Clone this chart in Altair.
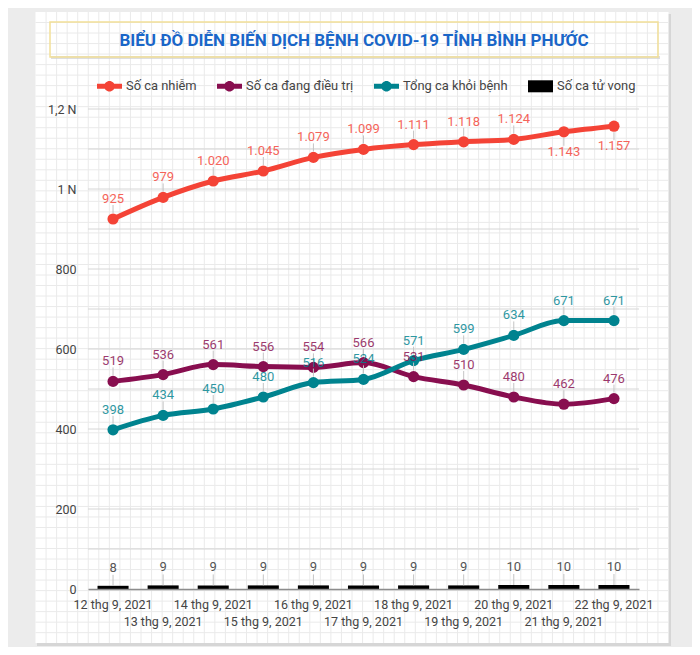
import altair as alt
import pandas as pd

# ---------------- data ----------------
dates = [
    "12 thg 9, 2021", "13 thg 9, 2021", "14 thg 9, 2021", "15 thg 9, 2021",
    "16 thg 9, 2021", "17 thg 9, 2021", "18 thg 9, 2021", "19 thg 9, 2021",
    "20 thg 9, 2021", "21 thg 9, 2021", "22 thg 9, 2021",
]
so_ca_nhiem = [925, 979, 1020, 1045, 1079, 1099, 1111, 1118, 1124, 1143, 1157]
dang_dieu_tri = [519, 536, 561, 556, 554, 566, 531, 510, 480, 462, 476]
khoi_benh = [398, 434, 450, 480, 516, 524, 571, 599, 634, 671, 671]
tu_vong = [8, 9, 9, 9, 9, 9, 9, 9, 10, 10, 10]

series_names = ["Số ca nhiễm", "Số ca đang điều trị", "Tổng ca khỏi bệnh", "Số ca tử vong"]
series_colors = ["#f44336", "#880e4f", "#00838f", "#000000"]
y_tick_values = [0, 200, 400, 600, 800, 1000, 1200]
grid_values = [100, 200, 300, 400, 500, 600, 700, 800, 900, 1000, 1100, 1200]
title_text = "BIỂU ĐỒ DIỄN BIẾN DỊCH BỆNH COVID-19 TỈNH BÌNH PHƯỚC"

# labels drawn under their point instead of above
labels_below = [("Số ca nhiễm", "21 thg 9, 2021"), ("Số ca nhiễm", "22 thg 9, 2021")]

rows = []
for name, vals in zip(series_names, [so_ca_nhiem, dang_dieu_tri, khoi_benh, tu_vong]):
    for d, v in zip(dates, vals):
        rows.append({"date": d, "series": name, "value": v})
df = pd.DataFrame(rows)

DEATHS = series_names[3]
below_expr = " || ".join(
    f"(datum.series === '{s}' && datum.date === '{d}')" for s, d in labels_below
)

# ---------------- encodings ----------------
x_enc = alt.X(
    "date:O",
    sort=dates,
    scale=alt.Scale(type="band", domain=dates, paddingInner=0, paddingOuter=0),
    axis=alt.Axis(
        title=None, labelAngle=0, ticks=False, tickSize=0, grid=False,
        labelExpr="parseInt(datum.value) % 2 == 0 ? datum.value : ['', datum.value]",
        labelLineHeight=17, labelPadding=9, labelOverlap=False,
        labelColor="#444444", labelFontSize=12.5, labelFont="Roboto",
        domainColor="#8c8c8c", domainWidth=1.5, zindex=1,
    ),
)
y_enc = alt.Y(
    "value:Q",
    scale=alt.Scale(domain=[0, 1200], nice=False, zero=True),
    axis=alt.Axis(
        title=None, values=y_tick_values, grid=False, domain=False, ticks=False,
        tickSize=0, labelPadding=12, labelColor="#444444", labelFontSize=12.5,
        labelFont="Roboto", zindex=1,
        labelExpr="datum.value >= 1000 ? format(datum.value / 1000, '.1~f') + ' N' : format(datum.value, 'd')",
    ),
)

LINEDOT = "M-1,-0.2H1V0.2H-1Z M0.42,0A0.42,0.42,0,1,1,-0.42,0A0.42,0.42,0,1,1,0.42,0Z"
RECT = "M-1,-0.48H1V0.48H-1Z"
legend = alt.Legend(
    title=None, orient="none", legendX=9, legendY=-35.5, direction="horizontal",
    symbolSize=625, labelFontSize=12.9, labelColor="#444444", labelFont="Roboto",
    columnPadding=20, labelOffset=4, padding=0, symbolStrokeWidth=0, symbolOpacity=1,
)
stroke_enc = alt.Stroke("series:N", scale=alt.Scale(domain=series_names, range=series_colors), legend=None)
fill_enc = alt.Fill("series:N", scale=alt.Scale(domain=series_names, range=series_colors), legend=None)

base = alt.Chart(df)
lines_data = base.transform_filter(f"datum.series !== '{DEATHS}'")
deaths_data = base.transform_filter(f"datum.series === '{DEATHS}'")
one = alt.Data(values=[{}])

# ---------------- decoration ----------------
card_shadow = alt.Chart(one).mark_rect(fill="#d6d6d6").encode(
    x=alt.value(-51), x2=alt.value(583), y=alt.value(-95), y2=alt.value(537))
card = alt.Chart(one).mark_rect(fill="#ffffff").encode(
    x=alt.value(-52.5), x2=alt.value(580.5), y=alt.value(-97), y2=alt.value(534))
grid_v = alt.Chart(alt.sequence(1, 60, as_="k")).transform_calculate(
    px="-52.5 + datum.k * 10.55"
).mark_rule(color="#eaeaea", strokeWidth=1).encode(
    x=alt.X("px:Q", scale=None, axis=None), y=alt.value(-97), y2=alt.value(534))
grid_h = alt.Chart(alt.sequence(1, 60, as_="k")).transform_calculate(
    py="-97 + datum.k * 10.52"
).mark_rule(color="#eaeaea", strokeWidth=1).encode(
    y=alt.Y("py:Q", scale=None, axis=None), x=alt.value(-52.5), x2=alt.value(580.5))
box_shadow = alt.Chart(one).mark_rect(fill="#d0d0d0", opacity=0.7).encode(
    x=alt.value(-37), x2=alt.value(572), y=alt.value(-53), y2=alt.value(-50))
title_box = alt.Chart(one).mark_rect(
    filled=False, stroke="#f2df98", strokeWidth=1.5
).encode(x=alt.value(-38), x2=alt.value(570), y=alt.value(-87), y2=alt.value(-52))

# ---------------- data layers ----------------
gridlines = alt.Chart(pd.DataFrame({"value": grid_values})).mark_rule(
    color="#d6d6d6", strokeWidth=1
).encode(y=y_enc)

bars = deaths_data.mark_bar(width=alt.RelativeBandSize(0.62)).encode(
    x=x_enc, y=y_enc, fill=fill_enc)
lines = lines_data.mark_line(strokeWidth=5, interpolate="monotone").encode(
    x=x_enc, y=y_enc, stroke=stroke_enc)
points = lines_data.mark_point(filled=True, size=125, opacity=1, strokeWidth=0).encode(
    x=x_enc, y=y_enc, fill=fill_enc)

# legend-only layer (no rows drawn)
legend_layer = base.transform_filter("false").mark_point(
    filled=True, size=625, opacity=1, strokeWidth=0
).encode(
    x=x_enc, y=y_enc,
    color=alt.Color("series:N", scale=alt.Scale(domain=series_names, range=series_colors), legend=legend),
    shape=alt.Shape("series:N", scale=alt.Scale(
        domain=series_names, range=[LINEDOT, LINEDOT, LINEDOT, RECT]), legend=legend),
)

above = lines_data.transform_filter(f"!({below_expr})")
below = lines_data.transform_filter(below_expr)

lead_above = above.mark_rule(color="#c4c4c4", strokeWidth=1, yOffset=-14, y2Offset=-6).encode(
    x=x_enc, y=y_enc, y2="value:Q")
lead_below = below.mark_rule(color="#c4c4c4", strokeWidth=1, yOffset=6, y2Offset=14).encode(
    x=x_enc, y=y_enc, y2="value:Q")
lead_deaths = deaths_data.mark_rule(color="#c4c4c4", strokeWidth=1, yOffset=-11, y2Offset=0).encode(
    x=x_enc, y=y_enc, y2="value:Q")

txt_above = above.mark_text(dy=-20, fontSize=13, font="Roboto", opacity=0.82).encode(
    x=x_enc, y=y_enc, text=alt.Text("value:Q", format=",d"), fill=fill_enc)
txt_below = below.mark_text(dy=20, fontSize=13, font="Roboto", opacity=0.82).encode(
    x=x_enc, y=y_enc, text=alt.Text("value:Q", format=",d"), fill=fill_enc)
txt_deaths = deaths_data.mark_text(dy=-18, fontSize=13, font="Roboto", color="#555555").encode(
    x=x_enc, y=y_enc, text=alt.Text("value:Q", format=",d"))

chart = alt.layer(
    card_shadow, card, grid_v, grid_h, box_shadow, title_box,
    legend_layer, gridlines, bars, lines, points,
    lead_above, lead_below, lead_deaths,
    txt_above, txt_below, txt_deaths,
).properties(
    width=551, height=480,
    autosize=alt.AutoSizeParams(type="none"),
    padding={"left": 80, "top": 101, "right": 53, "bottom": 58},
    title=alt.TitleParams(
        text=title_text, anchor="middle", frame="group", dx=-9.5, dy=38, offset=0,
        fontSize=17, fontWeight="bold", color="#1a66c8", font="Roboto",
    ),
).configure(
    background="#ececec", font="Roboto",
    locale=alt.Locale(number=alt.NumberLocale(
        decimal=",", thousands=".", grouping=[3], currency=["", " ₫"])),
).configure_view(strokeWidth=0)

chart.save("out.html", embed_options={"renderer": "svg", "actions": False})
